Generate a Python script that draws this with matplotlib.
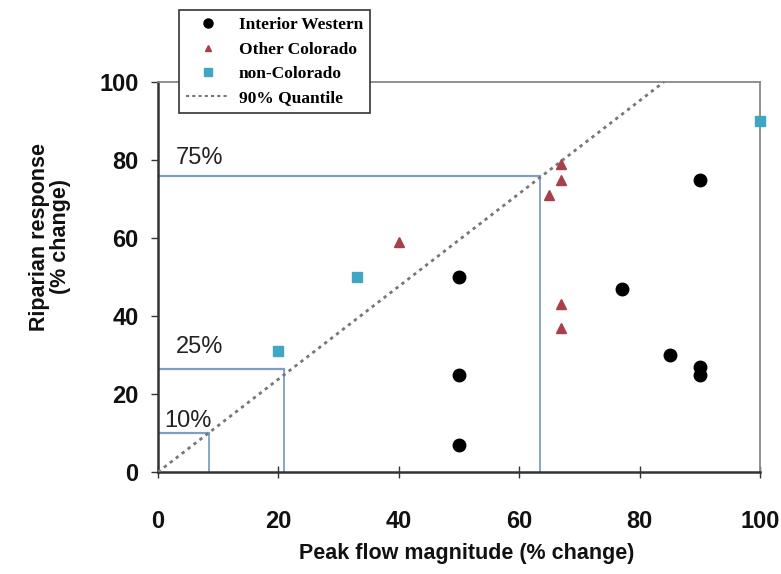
import matplotlib
matplotlib.use("Agg")
import matplotlib.pyplot as plt
from matplotlib.lines import Line2D

# Data
interior_x = [50, 50, 50, 77, 85, 90, 90, 90]
interior_y = [50, 25, 7, 47, 30, 75, 27, 25]
other_x = [40, 65, 67, 67, 67, 67]
other_y = [59, 71, 79, 75, 43, 37]
noncol_x = [20, 33, 100]
noncol_y = [31, 50, 90]
quantile_slope = 1.19
quant_levels = ["75%", "25%", "10%"]
quant_y = [76, 26.5, 10]
quant_x = [63.5, 21, 8.4]
label_y = [80.5, 32, 13]
xticks = [0, 20, 40, 60, 80, 100]
yticks = [0, 20, 40, 60, 80, 100]

fig = plt.figure(figsize=(7.81, 5.74), dpi=100)
ax = fig.add_axes([158/781, 1-472/574, (760-158)/781, (472-82)/574])
ax.set_xlim(0, 100)
ax.set_ylim(0, 100)

ref_color = "#7f9fc4"
for lab, qy, qx, ly in zip(quant_levels, quant_y, quant_x, label_y):
    ax.plot([0, qx], [qy, qy], color=ref_color, lw=1.6, zorder=2)
    ax.plot([qx, qx], [0, qy], color=ref_color, lw=1.3, zorder=2)
    ax.text(3.0 if lab != "10%" else 1.1, ly, lab, fontsize=17, family="Liberation Sans",
            color="#222222", va="center", ha="left", zorder=3)

qx_end = 100 / quantile_slope
ax.plot([0, qx_end], [0, 100], color="#777777", lw=2, linestyle=(0, (1.2, 1.5)), zorder=3)

ax.plot(interior_x, interior_y, "o", color="black", ms=9, zorder=5, clip_on=False)
ax.plot(other_x, other_y, "^", color="#a8404c", ms=6.5, zorder=5, clip_on=False)
ax.plot(noncol_x, noncol_y, "s", color="#3fa6c4", ms=7.5, zorder=5, clip_on=False)

ax.set_xticks(xticks)
ax.set_yticks(yticks)
for s in ["left", "bottom"]:
    ax.spines[s].set_linewidth(1.8)
    ax.spines[s].set_color("#333333")
for s in ["top", "right"]:
    ax.spines[s].set_linewidth(1.3)
    ax.spines[s].set_color("#888888")
ax.tick_params(axis="y", direction="out", length=5, width=1, pad=9, labelsize=17, colors="#333333")
ax.tick_params(axis="x", direction="inout", length=8, width=1, pad=23, labelsize=17, colors="#333333")
for lbl in ax.get_xticklabels() + ax.get_yticklabels():
    lbl.set_fontweight("bold")
    lbl.set_family("Liberation Sans")
    lbl.set_color("#111111")

fig.text(467/781, 1-554/574, "Peak flow magnitude (% change)", ha="center", va="center",
         fontsize=15.5, fontweight="bold", family="Liberation Sans", color="#111111")
fig.text(50/781, 1-237/574, "Riparian response\n(% change)", ha="center", va="center",
         rotation=90, fontsize=15.5, fontweight="bold", family="Liberation Sans",
         color="#111111", linespacing=0.95)

handles = [
    Line2D([], [], marker="o", color="black", ls="none", ms=6.5),
    Line2D([], [], marker="^", color="#a8404c", ls="none", ms=5),
    Line2D([], [], marker="s", color="#3fa6c4", ls="none", ms=5.5),
    Line2D([], [], color="#777777", lw=1.5, linestyle=(0, (1.5, 1.5))),
]
labels = ["Interior Western", "Other Colorado", "non-Colorado", "90% Quantile"]
leg = fig.legend(handles, labels, loc="upper left", bbox_to_anchor=(179/781, 1-10/574),
                 prop={"family": "Liberation Serif", "weight": "bold", "size": 12.5},
                 frameon=True, fancybox=False, edgecolor="#333333", framealpha=1,
                 handlelength=2.5, labelspacing=0.48, borderpad=0.4, handletextpad=0.55,
                 borderaxespad=0)
leg.get_frame().set_linewidth(1.2)
leg.set_zorder(10)

fig.savefig("out.png", dpi=100)
